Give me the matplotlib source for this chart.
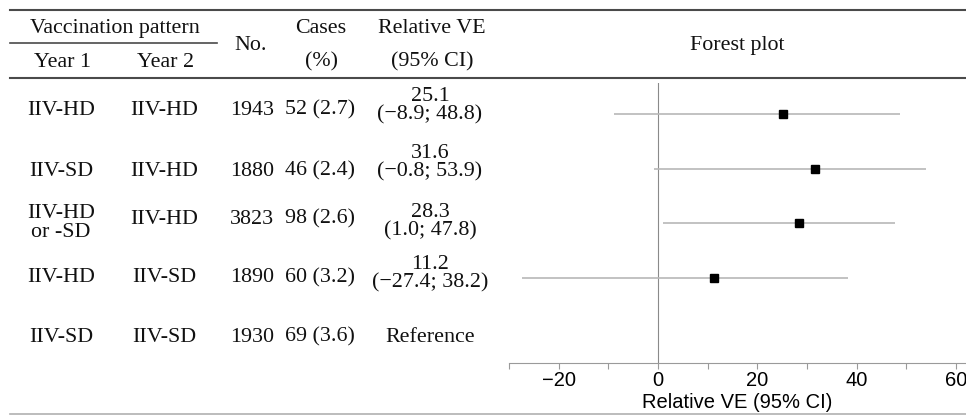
import matplotlib
matplotlib.use("Agg")
import matplotlib.pyplot as plt
import matplotlib.ticker as ticker

# ── DATA ─────────────────────────────────────────────────────────────────────
year1   = ["IIV-HD", "IIV-SD", "IIV-HD\nor -SD", "IIV-HD", "IIV-SD"]
year2   = ["IIV-HD", "IIV-HD", "IIV-HD", "IIV-SD", "IIV-SD"]
n_total = [1943, 1880, 3823, 1890, 1930]
cases   = ["52 (2.7)", "46 (2.4)", "98 (2.6)", "60 (3.2)", "69 (3.6)"]
ve      = [25.1, 31.6, 28.3, 11.2]
ve_lo   = [-8.9, -0.8, 1.0, -27.4]
ve_hi   = [48.8, 53.9, 47.8, 38.2]
ve_text = ["25.1\n(\u22128.9; 48.8)", "31.6\n(\u22120.8; 53.9)",
           "28.3\n(1.0; 47.8)", "11.2\n(\u221227.4; 38.2)", "Reference"]
xticks  = [-20, 0, 20, 40, 60]

W, H = 966, 417
SERIF = "Liberation Serif"
SANS  = "Liberation Sans"
DARK  = "#4a4a4a"
FS    = 15.8

fig = plt.figure(figsize=(W / 100, H / 100), dpi=100)

# background axes in pixel coords for the table part
bg = fig.add_axes([0, 0, 1, 1])
bg.set_xlim(0, W)
bg.set_ylim(H, 0)
bg.axis("off")

# rules
bg.plot([10, W], [10, 10], color=DARK, lw=1.5)
bg.plot([10, 217], [43, 43], color=DARK, lw=1.2)
bg.plot([10, W], [78, 78], color=DARK, lw=1.5)
bg.plot([10, W], [414, 414], color="#b0b0b0", lw=1.2)

def t(x, y, s, **kw):
    bg.text(x, y, s, ha="center", va="center", family=SERIF,
            fontsize=FS, color="#111111", linespacing=0.95, **kw)

# header
t(115, 28, "Vaccination pattern")
t(62, 62, "Year 1")
t(166, 62, "Year 2")
t(251, 45, "No.")
t(321, 28, "Cases")
t(321, 62, "(%)")
t(432, 28, "Relative VE")
t(432, 62, "(95% CI)")
t(737, 45, "Forest plot")

# body rows
row_y = [110, 171, 219, 278, 337]
ve_y  = [106, 163, 222, 274, 337]
for i in range(len(year1)):
    t(61, row_y[i] + (4 if "\n" in year1[i] else 0), year1[i])
    t(164, row_y[i], year2[i])
    t(252, row_y[i], str(n_total[i]))
    t(320, row_y[i], cases[i])
    t(430, ve_y[i], ve_text[i])

# ── FOREST PLOT ──────────────────────────────────────────────────────────────
left, right, top, bottom = 509, 966, 83, 363
ax = fig.add_axes([left / W, 1 - bottom / H, (right - left) / W, (bottom - top) / H])
ax.patch.set_alpha(0)
rows = list(range(len(ve)))
ax.hlines(rows, ve_lo, ve_hi, color="#b8b8b8", lw=1.2, zorder=1)
ax.plot(ve, rows, "s", color="black", markersize=6, zorder=3)
ax.axvline(0, color="#8a8a8a", lw=0.8, zorder=0)

ax.set_xlim(-30, 62)
ax.set_ylim(4.55, -0.567)
ax.set_yticks([])
ax.set_xticks(xticks)
ax.set_xticklabels([str(v).replace("-", "\u2212") for v in xticks])
ax.xaxis.set_minor_locator(ticker.MultipleLocator(10))
ax.tick_params(axis="x", which="both", direction="out", length=4,
               color="#9a9a9a", width=0.8, labelsize=14.5, pad=2)
for lab in ax.get_xticklabels():
    lab.set_family(SANS)
ax.set_xlabel("Relative VE (95% CI)", family=SANS, fontsize=14.5, labelpad=2)
ax.spines[["top", "right", "left"]].set_visible(False)
ax.spines["bottom"].set_color("#9a9a9a")
ax.spines["bottom"].set_linewidth(0.8)

plt.savefig("out.png", dpi=100)
